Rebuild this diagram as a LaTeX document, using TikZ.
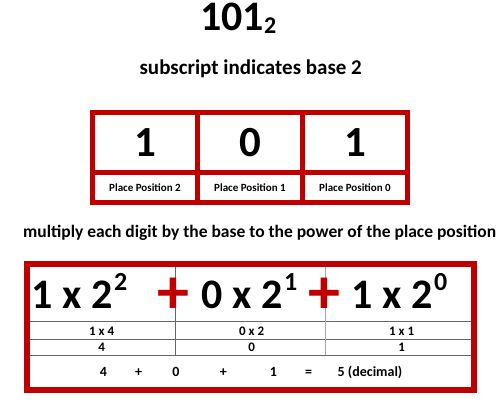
\documentclass[tikz,border=0pt]{standalone}
\usepackage{fontspec}
\setmainfont{Carlito}
\definecolor{xred}{HTML}{C00000}
\newcommand{\fsz}[1]{\fontsize{#1}{#1}\selectfont}
\newcommand{\supx}[1]{\hspace{1.5pt}\raisebox{18pt}{\fsz{26}#1}}
\begin{document}
\begin{tikzpicture}[x=1pt,y=-1pt,
  every node/.style={font=\bfseries, inner sep=0pt},
  cell/.style={fill=white, draw=none, minimum width=100pt},
  gridline/.style={black!60, line width=0.8pt},
  redplus/.style={text=xred, font=\bfseries\fsz{64}}]
\useasboundingbox (0,0) rectangle (500,400);
% title
\node[anchor=base west] (title) at (200,30) {\fsz{42}101\raisebox{-3.3pt}{\fsz{24}2}};
\node[anchor=base] (sub) at (250.7,74) {\fsz{21}subscript indicates base 2};
% top table
\fill[xred] (90,110) rectangle (410,205);
\node[cell, minimum height=55pt] (d2) at (145,142.5) {\fsz{43}1};
\node[cell, minimum height=55pt] (d1) at (250,142.5) {\fsz{43}0};
\node[cell, minimum height=55pt] (d0) at (355,142.5) {\fsz{43}1};
\node[cell, minimum height=25pt] (p2) at (145,187.5) {\fsz{11}Place Position 2};
\node[cell, minimum height=25pt] (p1) at (250,187.5) {\fsz{11}Place Position 1};
\node[cell, minimum height=25pt] (p0) at (355,187.5) {\fsz{11}Place Position 0};
% instruction
\node[anchor=base west] (mult) at (23,237.7) {\fsz{17.5}multiply each digit by the base to the power of the place position};
% bottom table
\draw[gridline] (30,321.7) -- (471,321.7);
\draw[gridline] (30,339) -- (471,339);
\draw[gridline] (30,355) -- (471,355);
\draw[gridline] (175.7,267) -- (175.7,355);
\draw[gridline, black!35] (325.7,267) -- (325.7,355);
\draw[xred, line width=6pt] (27,264) rectangle (474,390);
\node[anchor=base west] (t2) at (31.5,308.3) {\fsz{42}1 x 2\supx{2}};
\node[anchor=base west] (t1) at (201.5,308.3) {\fsz{42}0 x 2\supx{1}};
\node[anchor=base west] (t0) at (351.5,308.3) {\fsz{42}1 x 2\supx{0}};
\node[redplus] (plusA) at (173.7,295.5) {+};
\node[redplus] (plusB) at (324.3,295.5) {+};
\node[anchor=base] (m2) at (101.7,335) {\fsz{13}1 x 4};
\node[anchor=base] (m1) at (251.7,335) {\fsz{13}0 x 2};
\node[anchor=base] (m0) at (401.7,335) {\fsz{13}1 x 1};
\node[anchor=base] (v2) at (101.7,351.7) {\fsz{13}4};
\node[anchor=base] (v1) at (251.7,351.7) {\fsz{13}0};
\node[anchor=base] (v0) at (401.7,351.7) {\fsz{13}1};
\node[anchor=base] (s1) at (103.3,376.7) {\fsz{14}4};
\node[anchor=base] (s2) at (138.5,376.7) {\fsz{14}+};
\node[anchor=base] (s3) at (176,376.7) {\fsz{14}0};
\node[anchor=base] (s4) at (223.3,376.7) {\fsz{14}+};
\node[anchor=base] (s5) at (273.3,376.7) {\fsz{14}1};
\node[anchor=base] (s6) at (308.5,376.7) {\fsz{14}=};
\node[anchor=base] (s7) at (370,376.7) {\fsz{14}5 (decimal)};
\end{tikzpicture}
\end{document}
